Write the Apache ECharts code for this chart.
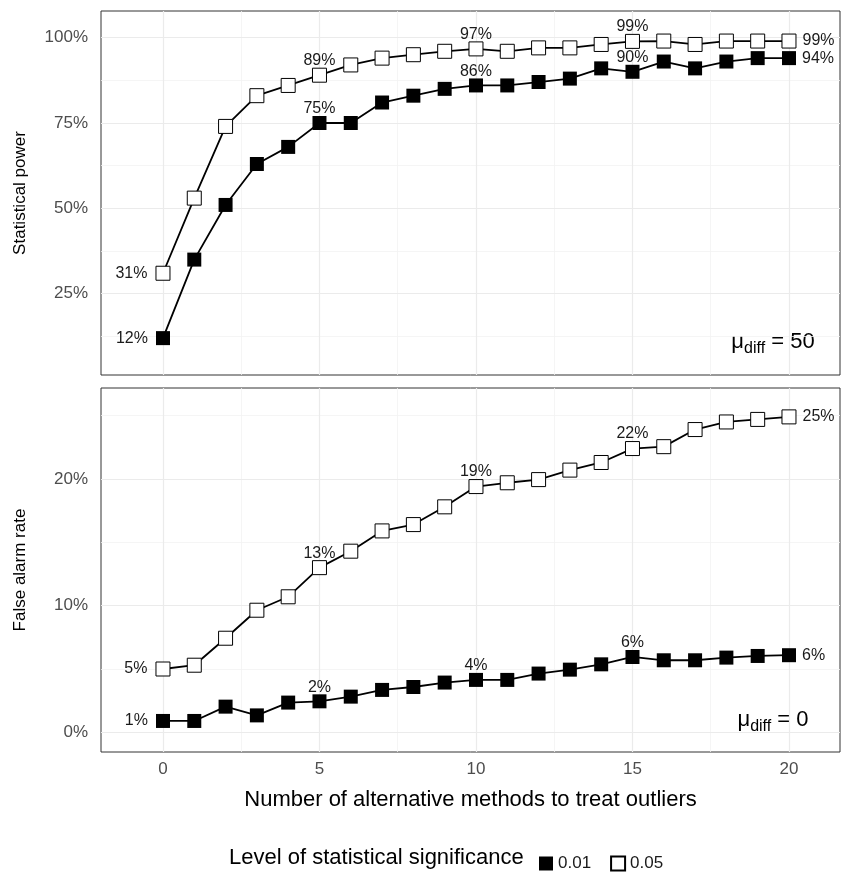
<!DOCTYPE html>
<html><head><meta charset="utf-8">
<script src="https://cdn.jsdelivr.net/npm/echarts@6/dist/echarts.min.js"></script>
<style>html,body{margin:0;padding:0;background:#fff}#c{width:841px;height:873px}</style>
</head><body><div id="c"></div>
<script>
// ---- data ----
const methods = [0,1,2,3,4,5,6,7,8,9,10,11,12,13,14,15,16,17,18,19,20];
const powerSig01 = [12,35,51,63,68,75,75,81,83,85,86,86,87,88,91,90,93,91,93,94,94];
const powerSig05 = [31,53,74,83,86,89,92,94,95,96,96.7,96,97,97,98,98.9,99,98,99,99,99];
const falseSig01 = [0.9,0.9,2.03,1.34,2.35,2.45,2.82,3.35,3.58,3.93,4.14,4.14,4.64,4.95,5.37,5.95,5.69,5.69,5.9,6.03,6.09];
const falseSig05 = [5.0,5.3,7.43,9.64,10.7,13.0,14.3,15.9,16.4,17.8,19.4,19.7,19.95,20.7,21.3,22.4,22.55,23.9,24.5,24.7,24.9];
const labelledMethods = [0,5,10,15,20];
const xTicks = [0,5,10,15,20];
const xMinor = [2.5,7.5,12.5,17.5];
const powerTicks = [25,50,75,100];
const powerMinor = [12.5,37.5,62.5,87.5];
const falseTicks = [0,10,20];
const falseMinor = [5,15,25];
const seriesNames = ['0.01','0.05'];
const panelNames = ['50','0'];

const FONT = 'Liberation Sans, Arial, Helvetica, sans-serif';
const chart = echarts.init(document.getElementById('c'), null, {renderer:'canvas'});

function build(xs, ys){
  const last = xs[xs.length-1];
  return xs.map((x,i)=>{
    const item = {value:[x, ys[i]]};
    if (labelledMethods.includes(x)) {
      const pos = x===xs[0] ? 'left' : (x===last ? 'right' : 'top');
      item.label = {show:true, position:pos, distance: pos==='top'?-1:(pos==='left'?8:6)};
    }
    return item;
  });
}
const labelStyle = {show:false, fontFamily:FONT, fontSize:16, color:'#1a1a1a',
  formatter: p => Math.round(p.value[1]) + '%'};

function gridSeries(gi, xMajor, xMin, yMajor, yMin){
  const major = {color:'#ebebeb', width:1.2, type:'solid'};
  const minor = {color:'#f2f2f2', width:0.8, type:'solid'};
  const d = [];
  xMin.forEach(v=>d.push({xAxis:v, lineStyle:minor}));
  yMin.forEach(v=>d.push({yAxis:v, lineStyle:minor}));
  xMajor.forEach(v=>d.push({xAxis:v, lineStyle:major}));
  yMajor.forEach(v=>d.push({yAxis:v, lineStyle:major}));
  return {type:'line', xAxisIndex:gi, yAxisIndex:gi, data:[], silent:true, zlevel:0, z:0,
    markLine:{silent:true, symbol:['none','none'], label:{show:false}, animation:false, data:d}};
}

function mainSeries(gi, name, ys, filled){
  return {
    name, type:'line', xAxisIndex:gi, yAxisIndex:gi,
    data: build(methods, ys),
    symbol:'rect', symbolSize:14, showAllSymbol:true,
    itemStyle: filled ? {color:'#000', borderColor:'#000', borderWidth:0} : {color:'#fff', borderColor:'#000', borderWidth:1},
    lineStyle:{color:'#000', width:1.8},
    label: labelStyle,
    emphasis:{disabled:true},
    zlevel:1,
    z: filled ? 3 : 4
  };
}

const tickLabel = {fontFamily:FONT, fontSize:17, color:'#4d4d4d'};
const yTitle = {fontFamily:FONT, fontSize:17, color:'#000'};

const option = {
  animation:false,
  backgroundColor:'#fff',
  textStyle:{fontFamily:FONT},
  grid:[
    {left:101, top:11, width:739, height:364, show:true, borderColor:'#333', borderWidth:1, backgroundColor:'transparent', containLabel:false},
    {left:101, top:388, width:739, height:364, show:true, borderColor:'#333', borderWidth:1, backgroundColor:'transparent', containLabel:false}
  ],
  xAxis:[
    {gridIndex:0, type:'value', min:-1.98, max:21.63, axisLine:{show:false}, axisTick:{show:false}, axisLabel:{show:false}, splitLine:{show:false}},
    {gridIndex:1, type:'value', min:-1.98, max:21.63, axisLine:{show:false},
     axisTick:{show:true, length:4, lineStyle:{color:'#333'}, customValues:xTicks},
     axisLabel:Object.assign({show:true, margin:9, customValues:xTicks}, tickLabel),
     splitLine:{show:false},
     name:'Number of alternative methods to treat outliers', nameLocation:'middle', nameGap:37,
     nameTextStyle:{fontFamily:FONT, fontSize:22, color:'#000'}}
  ],
  yAxis:[
    {gridIndex:0, type:'value', min:1.2, max:107.8, axisLine:{show:false},
     axisTick:{show:true, length:4, lineStyle:{color:'#333'}, customValues:powerTicks},
     axisLabel:Object.assign({show:true, margin:13, customValues:powerTicks, formatter:v=>v+'%'}, tickLabel),
     splitLine:{show:false},
     name:'Statistical power', nameLocation:'middle', nameGap:72, nameTextStyle:yTitle},
    {gridIndex:1, type:'value', min:-1.55, max:27.18, axisLine:{show:false},
     axisTick:{show:true, length:4, lineStyle:{color:'#333'}, customValues:falseTicks},
     axisLabel:Object.assign({show:true, margin:13, customValues:falseTicks, formatter:v=>v+'%'}, tickLabel),
     splitLine:{show:false},
     name:'False alarm rate', nameLocation:'middle', nameGap:72, nameTextStyle:yTitle}
  ],
  legend:{
    data:seriesNames, left:534, top:850, orient:'horizontal', icon:'rect',
    itemWidth:14, itemHeight:14, itemGap:19,
    textStyle:{fontFamily:FONT, fontSize:17, color:'#1a1a1a'},
    selectedMode:false
  },
  graphic:[
    {type:'text', left:229, top:847, style:{text:'Level of statistical significance', fontFamily:FONT, fontSize:22, fill:'#000'}},
    {type:'text', x:773, y:342, style:{text:'{mu|μ}{sub|diff}{eq| = '+panelNames[0]+'}', align:'center', verticalAlign:'middle',
      rich:{mu:{fontFamily:FONT, fontSize:22, fill:'#000'}, sub:{fontFamily:FONT, fontSize:16, fill:'#000', padding:[14,0,0,0]}, eq:{fontFamily:FONT, fontSize:22, fill:'#000'}}}},
    {type:'text', x:773, y:720, style:{text:'{mu|μ}{sub|diff}{eq| = '+panelNames[1]+'}', align:'center', verticalAlign:'middle',
      rich:{mu:{fontFamily:FONT, fontSize:22, fill:'#000'}, sub:{fontFamily:FONT, fontSize:16, fill:'#000', padding:[14,0,0,0]}, eq:{fontFamily:FONT, fontSize:22, fill:'#000'}}}}
  ],
  series:[
    gridSeries(0, xTicks, xMinor, powerTicks, powerMinor),
    gridSeries(1, xTicks, xMinor, falseTicks, falseMinor),
    mainSeries(0, seriesNames[0], powerSig01, true),
    mainSeries(0, seriesNames[1], powerSig05, false),
    mainSeries(1, seriesNames[0], falseSig01, true),
    mainSeries(1, seriesNames[1], falseSig05, false)
  ]
};
chart.setOption(option);
</script>
</body></html>
